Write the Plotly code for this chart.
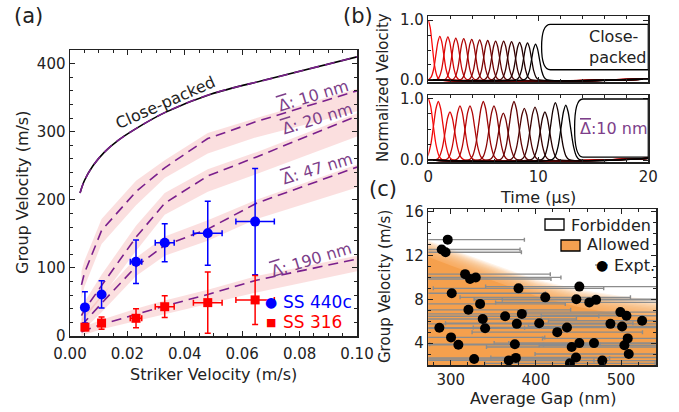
import plotly.graph_objects as go

W, H = 679, 412
FONT = "DejaVu Sans"
INK = "#222222"
PURPLE = "#7a1f8c"
LABEL_PURPLE = "#7d3f8a"
BAND = "rgba(240,128,128,0.25)"
ORANGE = "rgb(245,160,80)"

# ---------------- panel (a) data ----------------
sim_x = [0.004, 0.005, 0.011, 0.023, 0.033, 0.048, 0.065, 0.1]
close_x = [0.0035, 0.005, 0.008, 0.012, 0.017, 0.022, 0.033, 0.049, 0.07, 0.1]
close_y = [210, 228, 250, 270, 288, 302, 328, 355, 378, 410]
gap10 = [75, 92, 155, 212, 247, 290, 315, 360]
gap10_lo = [55, 72, 135, 192, 232, 268, 292, 330]
gap10_hi = [95, 110, 172, 228, 258, 298, 320, 363]
gap20 = [30, 38, 74, 145, 195, 235, 263, 323]
gap20_lo = [18, 25, 57, 125, 178, 212, 238, 293]
gap20_hi = [42, 50, 90, 162, 210, 245, 270, 327]
gap47 = [15, 20, 48, 102, 133, 157, 195, 248]
gap47_lo = [7, 10, 35, 88, 118, 140, 172, 218]
gap47_hi = [25, 30, 60, 115, 146, 170, 200, 252]
gap190 = [6, 8, 17, 32, 44, 61, 82, 113]
gap190_lo = [0, 2, 10, 22, 32, 46, 64, 95]
gap190_hi = [12, 14, 24, 40, 52, 68, 88, 118]

striker_v = [0.0052, 0.011, 0.023, 0.033, 0.048, 0.0645]
striker_err = [0.0005, 0.0006, 0.002, 0.0033, 0.005, 0.0067]
ss440_v = [42, 61, 109, 137, 151, 168]
ss440_err = [23, 20, 32, 28, 47, 78]
ss316_v = [13, 19, 26, 43, 49, 53]
ss316_err = [5, 9, 14, 16, 45, 36]

# ---------------- panel (b) data ----------------
pulse_shape = [0.01, 0.07, 0.25, 0.61, 0.88, 1.0, 0.88, 0.61, 0.25, 0.07, 0.01]
pulse_off_top = [-1.0, -0.78, -0.56, -0.34, -0.17, 0, 0.17, 0.34, 0.56, 0.78, 1.0]
pulse_off_bot = [-1.25, -0.97, -0.7, -0.42, -0.21, 0, 0.21, 0.42, 0.7, 0.97, 1.25]
top_peak_t = [1.05, 1.78, 2.5, 3.22, 3.95, 4.67, 5.4, 6.12, 6.85, 7.57, 8.3, 9.02, 9.75]
top_peak_amp = [0.73, 0.72, 0.70, 0.69, 0.68, 0.67, 0.66, 0.65, 0.65, 0.64, 0.63, 0.62, 0.60]
bot_peak_t = [0.91, 1.97, 2.88, 3.79, 5.0, 5.97, 6.82, 7.79, 8.73, 9.7, 10.6, 11.55, 12.5]
bot_peak_amp = [0.95, 0.78, 0.88, 0.88, 0.95, 0.88, 0.76, 0.95, 0.84, 0.86, 0.78, 0.93, 0.89]

# ---------------- panel (c) data ----------------
gap_nm = [296.5, 289.4, 294, 316.9, 322.7, 329.4, 301.2, 286.7, 300.4, 309, 320.8, 334.5,
          337.6, 340.4, 327.5, 363.9, 379.6, 383.5, 377.6, 375.3, 376.5, 368.2, 403.9, 411,
          425.1, 436.5, 442, 447.1, 440, 451, 447.5, 451, 462.7, 470.6, 468.2, 478, 487.5,
          499.2, 506.3, 501.2, 507.8, 503.9, 509, 524.7]
group_v = [13.45, 12.55, 12.3, 10.3, 9.85, 10.0, 8.55, 5.4, 4.52, 3.85, 7.04, 7.58,
           6.2, 5.35, 2.55, 6.45, 9.0, 6.67, 5.76, 3.9, 2.65, 2.42, 5.82, 8.18,
           5.0, 5.42, 3.65, 2.68, 2.15, 9.16, 8.0, 4.0, 7.72, 7.95, 4.0, 2.4, 5.76,
           6.83, 6.5, 5.52, 4.43, 3.8, 3.0, 6.04]
gap_err = [90, 92, 89, 100, 95, 100, 110, 100, 110, 100, 120, 100,
           110, 100, 110, 110, 100, 120, 110, 100, 110, 100, 110, 100,
           100, 110, 100, 100, 100, 110, 120, 100, 110, 110, 100, 100, 110,
           110, 100, 110, 100, 100, 110, 110]
bound_gap = [270, 300, 350, 400, 450, 500, 545]
allowed_solid = [12.0, 11.1, 9.7, 8.3, 7.3, 6.6, 6.1]
allowed_fade = [13.5, 12.6, 11.2, 9.8, 8.9, 8.3, 7.9]

fig = go.Figure()

# ---- panel (a)
for lo, hi in [(gap10_lo, gap10_hi), (gap20_lo, gap20_hi), (gap47_lo, gap47_hi), (gap190_lo, gap190_hi)]:
    fig.add_trace(go.Scatter(x=sim_x, y=lo, mode="lines", line=dict(width=0),
                             showlegend=False, hoverinfo="skip", xaxis="x", yaxis="y"))
    fig.add_trace(go.Scatter(x=sim_x, y=hi, mode="lines", line=dict(width=0), fill="tonexty",
                             fillcolor=BAND, showlegend=False, hoverinfo="skip", xaxis="x", yaxis="y"))
for mid in [gap10, gap20, gap47, gap190]:
    fig.add_trace(go.Scatter(x=sim_x, y=mid, mode="lines",
                             line=dict(color=PURPLE, width=1.6, dash="10px,6px"),
                             showlegend=False, xaxis="x", yaxis="y"))
fig.add_trace(go.Scatter(x=close_x, y=close_y, mode="lines", line=dict(color="black", width=1.6, shape="spline"),
                         showlegend=False, xaxis="x", yaxis="y"))
fig.add_trace(go.Scatter(x=close_x, y=close_y, mode="lines",
                         line=dict(color=PURPLE, width=1.6, dash="10px,6px", shape="spline"),
                         showlegend=False, xaxis="x", yaxis="y"))
fig.add_trace(go.Scatter(x=striker_v, y=ss440_v, mode="markers",
                         marker=dict(color="#0000ff", size=10, symbol="circle"),
                         error_y=dict(type="data", array=ss440_err, color="#0000ff", thickness=1.5, width=3),
                         error_x=dict(type="data", array=striker_err, color="#0000ff", thickness=1.5, width=3),
                         showlegend=False, xaxis="x", yaxis="y"))
fig.add_trace(go.Scatter(x=striker_v, y=ss316_v, mode="markers",
                         marker=dict(color="#ff0000", size=9, symbol="square"),
                         error_y=dict(type="data", array=ss316_err, color="#ff0000", thickness=1.5, width=3),
                         error_x=dict(type="data", array=striker_err, color="#ff0000", thickness=1.5, width=3),
                         showlegend=False, xaxis="x", yaxis="y"))

# ---- panel (b)
def pulse_curves(peaks, amps, offs, tail, xa, ya):
    n = len(peaks) + 1
    for i in range(n):
        f = 1 - i / (n - 1)
        r = int(round(255 * f))
        col = f"rgb({r},{int(r*0.04)},{int(r*0.04)})"
        if i == 0:
            xs = [o for o in offs if o >= 0]
            ys = [s for o, s in zip(offs, pulse_shape) if o >= 0]
        else:
            t, a = peaks[i - 1], amps[i - 1]
            xs = [t + o for o in offs]
            ys = [a * s for s in pulse_shape]
            if xs[0] > 0:
                xs = [0] + xs
                ys = [0] + ys
        xs = xs + [20]
        ys = ys + [tail]
        fig.add_trace(go.Scatter(x=xs, y=ys, mode="lines",
                                 line=dict(color=col, width=1.3, shape="spline", smoothing=0.8),
                                 showlegend=False, xaxis=xa, yaxis=ya))

pulse_curves(top_peak_t, top_peak_amp, pulse_off_top, 0.015, "x2", "y2")
pulse_curves(bot_peak_t, bot_peak_amp, pulse_off_bot, 0.03, "x3", "y3")

# ---- panel (c)
fig.add_trace(go.Scatter(x=bound_gap, y=allowed_solid, mode="lines", line=dict(width=0),
                         fill="tozeroy", fillcolor=ORANGE, showlegend=False, hoverinfo="skip",
                         xaxis="x4", yaxis="y4"))
NL = 14
for k in range(1, NL + 1):
    f = k / NL
    top = [s + (e - s) * f for s, e in zip(allowed_solid, allowed_fade)]
    fig.add_trace(go.Scatter(x=bound_gap, y=top, mode="lines", line=dict(width=0),
                             fill="tozeroy", fillcolor="rgba(245,160,80,0.13)", showlegend=False,
                             hoverinfo="skip", xaxis="x4", yaxis="y4"))
fig.add_trace(go.Scatter(x=gap_nm, y=group_v, mode="markers",
                         marker=dict(color="black", size=10),
                         error_x=dict(type="data", array=gap_err, color="#8c8c8c", thickness=1.4, width=2),
                         name="Expt.", showlegend=False, xaxis="x4", yaxis="y4"))

def pxx(v):
    return v / W

def pyy(v):
    return 1 - v / H

axis_common = dict(showline=True, linecolor=INK, linewidth=1.5, mirror="allticks", ticks="inside",
                   ticklen=5, tickwidth=1, tickcolor=INK, showgrid=False, zeroline=False, automargin=False,
                   tickfont=dict(family=FONT, size=15, color=INK))

fig.update_layout(
    width=W, height=H, margin=dict(l=0, r=0, t=0, b=0),
    paper_bgcolor="white", plot_bgcolor="white", showlegend=False,
    font=dict(family=FONT, size=15, color=INK),
    xaxis=dict(domain=[pxx(70), pxx(357)], range=[0, 0.1], anchor="y", dtick=0.02, tickformat=".2f",
               ticklabelstandoff=3,
               minor=dict(dtick=0.005, ticks="inside", ticklen=3, tickcolor=INK), **axis_common),
    yaxis=dict(domain=[pyy(336), pyy(50)], range=[0, 420], anchor="x", dtick=100,
               minor=dict(dtick=20, ticks="inside", ticklen=3, tickcolor=INK), **axis_common),
    xaxis2=dict(domain=[pxx(428.3), pxx(648.3)], range=[0, 20], anchor="y2", dtick=10, showticklabels=False,
                minor=dict(dtick=2, ticks="inside", ticklen=3, tickcolor=INK), **axis_common),
    yaxis2=dict(domain=[pyy(82), pyy(16)], range=[-0.035, 1.07], anchor="x2", tickvals=[0, 1],
                ticktext=["0.0", "1.0"], minor=dict(dtick=0.25, ticks="inside", ticklen=3, tickcolor=INK),
                **axis_common),
    xaxis3=dict(domain=[pxx(428.3), pxx(648.3)], range=[0, 20], anchor="y3", dtick=10,
                minor=dict(dtick=2, ticks="inside", ticklen=3, tickcolor=INK), **axis_common),
    yaxis3=dict(domain=[pyy(162), pyy(95)], range=[-0.03, 1.055], anchor="x3", tickvals=[0, 1],
                ticktext=["0.0", "1.0"], minor=dict(dtick=0.25, ticks="inside", ticklen=3, tickcolor=INK),
                **axis_common),
    xaxis4=dict(domain=[pxx(428.3), pxx(656)], range=[273.7, 541], anchor="y4", dtick=100,
                minor=dict(dtick=20, ticks="inside", ticklen=3, tickcolor=INK), **axis_common),
    yaxis4=dict(domain=[pyy(365), pyy(209)], range=[2.0, 16.25], anchor="x4", tickvals=[4, 8, 12, 16],
                minor=dict(dtick=1, ticks="inside", ticklen=3, tickcolor=INK), **axis_common),
)

# panel (b) rounded text boxes
fig.add_shape(type="path", xref="x2", yref="y2",
              path="M 20,0.93 L 11.1,0.93 Q 10.3,0.93 10.3,0.55 Q 10.3,0.17 11.1,0.17 L 20,0.17 Z",
              fillcolor="white", line=dict(color="black", width=1.3))
fig.add_shape(type="path", xref="x3", yref="y3",
              path="M 20,0.99 L 14.05,0.99 Q 13.3,0.99 13.3,0.52 Q 13.3,0.05 14.05,0.05 L 20,0.05 Z",
              fillcolor="white", line=dict(color="black", width=1.3))

# panel (c) legend swatches
fig.add_shape(type="rect", xref="paper", yref="paper", x0=pxx(545), x1=pxx(564), y0=pyy(230), y1=pyy(219),
              fillcolor="white", line=dict(color="black", width=1.3))
fig.add_shape(type="rect", xref="paper", yref="paper", x0=pxx(561), x1=pxx(580), y0=pyy(251), y1=pyy(240),
              fillcolor=ORANGE, line=dict(color="black", width=1.3))
fig.add_shape(type="line", xref="paper", yref="paper", x0=pxx(595), x1=pxx(608), y0=pyy(265), y1=pyy(265),
              line=dict(color="#8c8c8c", width=1.4))

ann = []
def A(x, y, text, size=16, color=INK, angle=0, xanchor="center", ref="paper", align="center"):
    ann.append(dict(x=x, y=y, xref=ref if ref == "paper" else ref[0], yref=ref if ref == "paper" else ref[1],
                    text=text, showarrow=False, textangle=angle, xanchor=xanchor, yanchor="middle",
                    align=align, font=dict(family=FONT, size=size, color=color)))

OV = "<span style='text-decoration:overline'>Δ</span>"
# panel labels
A(pxx(28), pyy(16), "(a)", size=21)
A(pxx(358), pyy(16), "(b)", size=21)
A(pxx(383), pyy(189), "(c)", size=21)
# axis titles
A(pxx(22), pyy(193), "Group Velocity (m/s)", angle=-90)
A(pxx(213), pyy(374), "Striker Velocity (m/s)")
A(pxx(383), pyy(88), "Normalized Velocity", size=15, angle=-90)
A(pxx(538), pyy(197), "Time (µs)")
A(pxx(385), pyy(287), "Group Velocity (m/s)", size=15, angle=-90)
A(pxx(543), pyy(398), "Average Gap (nm)")
# panel (a) curve labels
A(0.0332, 343, "Close-packed", angle=-24, ref=("x", "y"))
A(0.085, 353, OV + ": 10 nm", color=LABEL_PURPLE, angle=-17, ref=("x", "y"))
A(0.0864, 319, OV + ": 20 nm", color=LABEL_PURPLE, angle=-17, ref=("x", "y"))
A(0.0864, 246, OV + ": 47 nm", color=LABEL_PURPLE, angle=-17, ref=("x", "y"))
A(0.0843, 112, OV + ": 190 nm", color=LABEL_PURPLE, angle=-17, ref=("x", "y"))
# panel (a) legend
A(pxx(271), pyy(302), "●", size=14, color="#0000ff")
A(pxx(281), pyy(302), "SS 440c", size=17, color="#0000ff", xanchor="left")
A(pxx(271), pyy(322), "■", size=11, color="#ff0000")
A(pxx(281), pyy(322), "SS 316", size=17, color="#ff0000", xanchor="left")
# panel (b) box texts
A(14.4, 0.55, "Close-<br>packed", ref=("x2", "y2"), xanchor="left", align="left")
A(13.65, 0.52, OV + ":10 nm", color=LABEL_PURPLE, ref=("x3", "y3"), xanchor="left")
# panel (c) legend texts
A(pxx(569), pyy(225), "Forbidden", xanchor="left")
A(pxx(585), pyy(245), "Allowed", xanchor="left")
A(pxx(601.5), pyy(265), "●", size=14, color="black")
A(pxx(612), pyy(265), "Expt.", xanchor="left")

fig.update_layout(annotations=ann)
fig.write_html("out.html", config={"displayModeBar": False, "staticPlot": True})

# remove the browser's default page margin so the figure sits at the window's corner
with open("out.html", "r", encoding="utf-8") as fh:
    html = fh.read()
html = html.replace("<body>", "<body style=\"margin:0;padding:0;overflow:hidden\">", 1)
with open("out.html", "w", encoding="utf-8") as fh:
    fh.write(html)
